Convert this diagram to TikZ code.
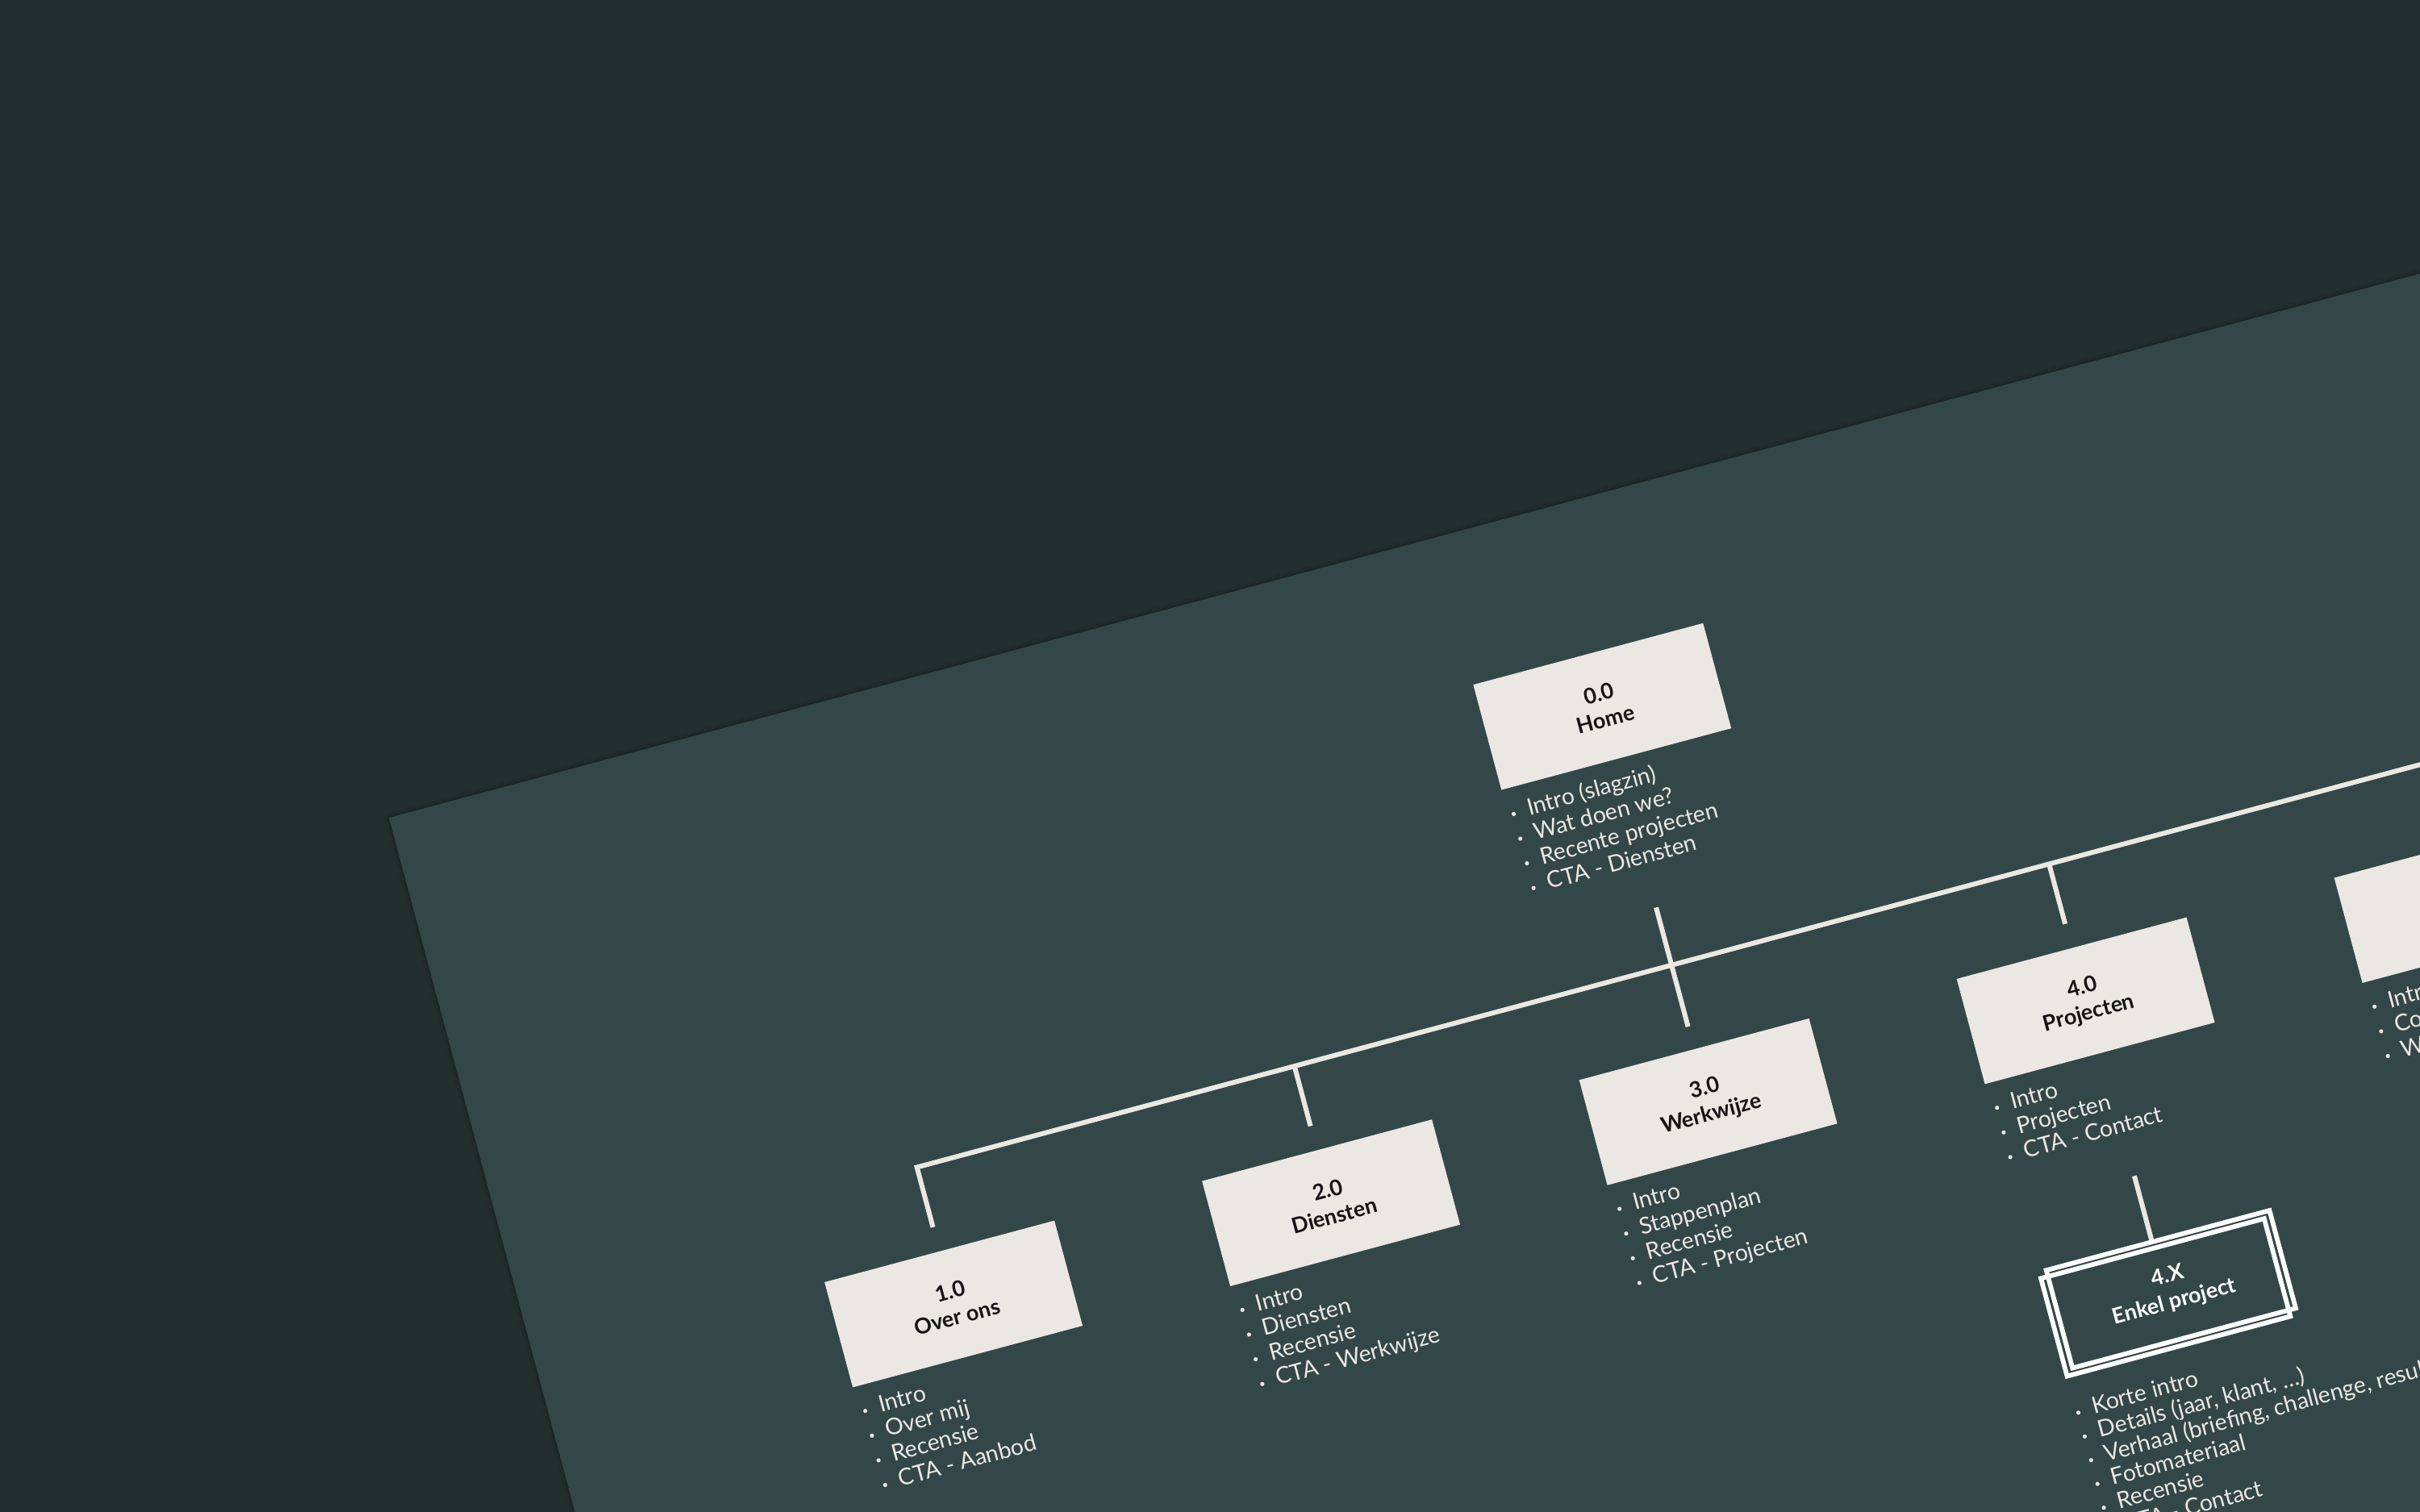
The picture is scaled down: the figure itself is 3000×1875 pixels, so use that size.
\documentclass[tikz,border=0pt]{standalone}
\usepackage{fontspec}
\setmainfont{Lato}
\usetikzlibrary{calc}
\definecolor{bgdark}{HTML}{232E2E}
\definecolor{boardcol}{HTML}{334748}
\definecolor{paper}{HTML}{EBE7E3}
\definecolor{ink}{HTML}{151515}
\newcommand\mybullets[5]{%
  \foreach \t [count=\i] in {#5} {
    \pgfmathsetmacro\yy{#3+#4*(\i-1)}
    \pgfmathsetmacro\yd{\yy-6.7}
    \node[itemtext] (#1-\i) at (#2+18,\yy) {\t};
    \node[dotmark] (#1-d\i) at (#2,\yd) {};
  }}
\begin{document}
\begin{tikzpicture}[x=0.5pt,y=-0.5pt,
  pagebox/.style={fill=paper, draw=none, minimum width=147.5pt, minimum height=67.5pt,
    inner sep=0pt, align=center, text=ink,
    font=\fontsize{13.5pt}{16.5pt}\selectfont\bfseries},
  stackbox/.style={draw=white, line width=2.9pt, fill=none, minimum width=143.25pt,
    minimum height=62.75pt, inner sep=0pt},
  stacklabel/.style={align=center, text=white, inner sep=0pt,
    font=\fontsize{13.5pt}{16.5pt}\selectfont\bfseries},
  itemtext/.style={anchor=base west, inner sep=0pt, text=paper,
    font=\fontsize{14.25pt}{16pt}\selectfont},
  dotmark/.style={circle, fill=paper, draw=none, inner sep=0pt, minimum size=2.6pt},
  conn/.style={draw=paper, line width=3pt}]
\useasboundingbox (0,0) rectangle (3000,1875);
\clip (0,0) rectangle (3000,1875);
\fill[bgdark] (0,0) rectangle (3000,1875);
\begin{scope}[shift={(482.2,1014.1)}, rotate=15, transform shape]
  % board with soft shadow
  \draw[black, opacity=0.06, line width=6pt] (0,0) rectangle (4000,3000);
  \draw[black, opacity=0.10, line width=2.5pt] (0,0) rectangle (4000,3000);
  \fill[boardcol] (0,0) rectangle (4000,3000);

  % page boxes
  \node[pagebox] (n00) at (1488.5,256) {0.0\\Home};
  \node[pagebox] (n10) at (520,763.5) {1.0\\Over ons};
  \node[pagebox] (n20) at (1004.5,763.5) {2.0\\Diensten};
  \node[pagebox] (n30) at (1488.5,763.5) {3.0\\Werkwijze};
  \node[pagebox] (n40) at (1973,763.5) {4.0\\Projecten};
  \node[pagebox] (n50) at (2457.5,763.5) {};

  % connectors
  \coordinate (barL) at (520,588);
  \coordinate (barR) at (2457.5,588);
  \coordinate (e10) at (520,665);
  \coordinate (x20) at (1004.5,588);
  \coordinate (e20) at (1004.5,665);
  \coordinate (x40) at (1973,588);
  \coordinate (e40) at (1973,665);
  \coordinate (e50) at (2457.5,665);
  \coordinate (v0a) at (1488.5,514);
  \coordinate (v0b) at (1488.5,667);
  \coordinate (s4a) at (1975,989);
  \coordinate (s4b) at (1975,1073.5);
  \draw[conn] (e10) -- (barL) -- (barR) -- (e50);
  \draw[conn] (x20) -- (e20);
  \draw[conn] (x40) -- (e40);
  \draw[conn] (v0a) -- (v0b);
  \draw[conn] (s4a) -- (s4b);

  % stacked detail page
  \node[stackbox] (sA) at (1982.5,1136.5) {};
  \node[stackbox] (sB) at (1973.5,1144.5) {};
  \node[stacklabel] (sT) at (1982.5,1137) {4.X\\Enkel project};

  % bullet lists
  \mybullets{l00}{1348}{363}{31.7}{Intro (slagzin), Wat doen we?, Recente projecten, CTA - Diensten}
  \mybullets{l10}{380}{870}{31.7}{Intro, Over mij, Recensie, CTA - Aanbod}
  \mybullets{l20}{864}{870}{31.7}{Intro, Diensten, Recensie, CTA - Werkwijze}
  \mybullets{l30}{1348}{870}{31.7}{Intro, Stappenplan, Recensie, CTA - Projecten}
  \mybullets{l40}{1832.5}{870}{31.7}{Intro, Projecten, CTA - Contact}
  \mybullets{l50}{2317}{870}{31.7}{Intro, Contact, Wegbeschrijving}
  \mybullets{l4x}{1832}{1261.3}{30.5}{Korte intro, {Details (jaar, klant, \ldots)}, {Verhaal (briefing, challenge, resultaat)}, Fotomateriaal, Recensie, CTA - Contact}
\end{scope}
\end{tikzpicture}
\end{document}
